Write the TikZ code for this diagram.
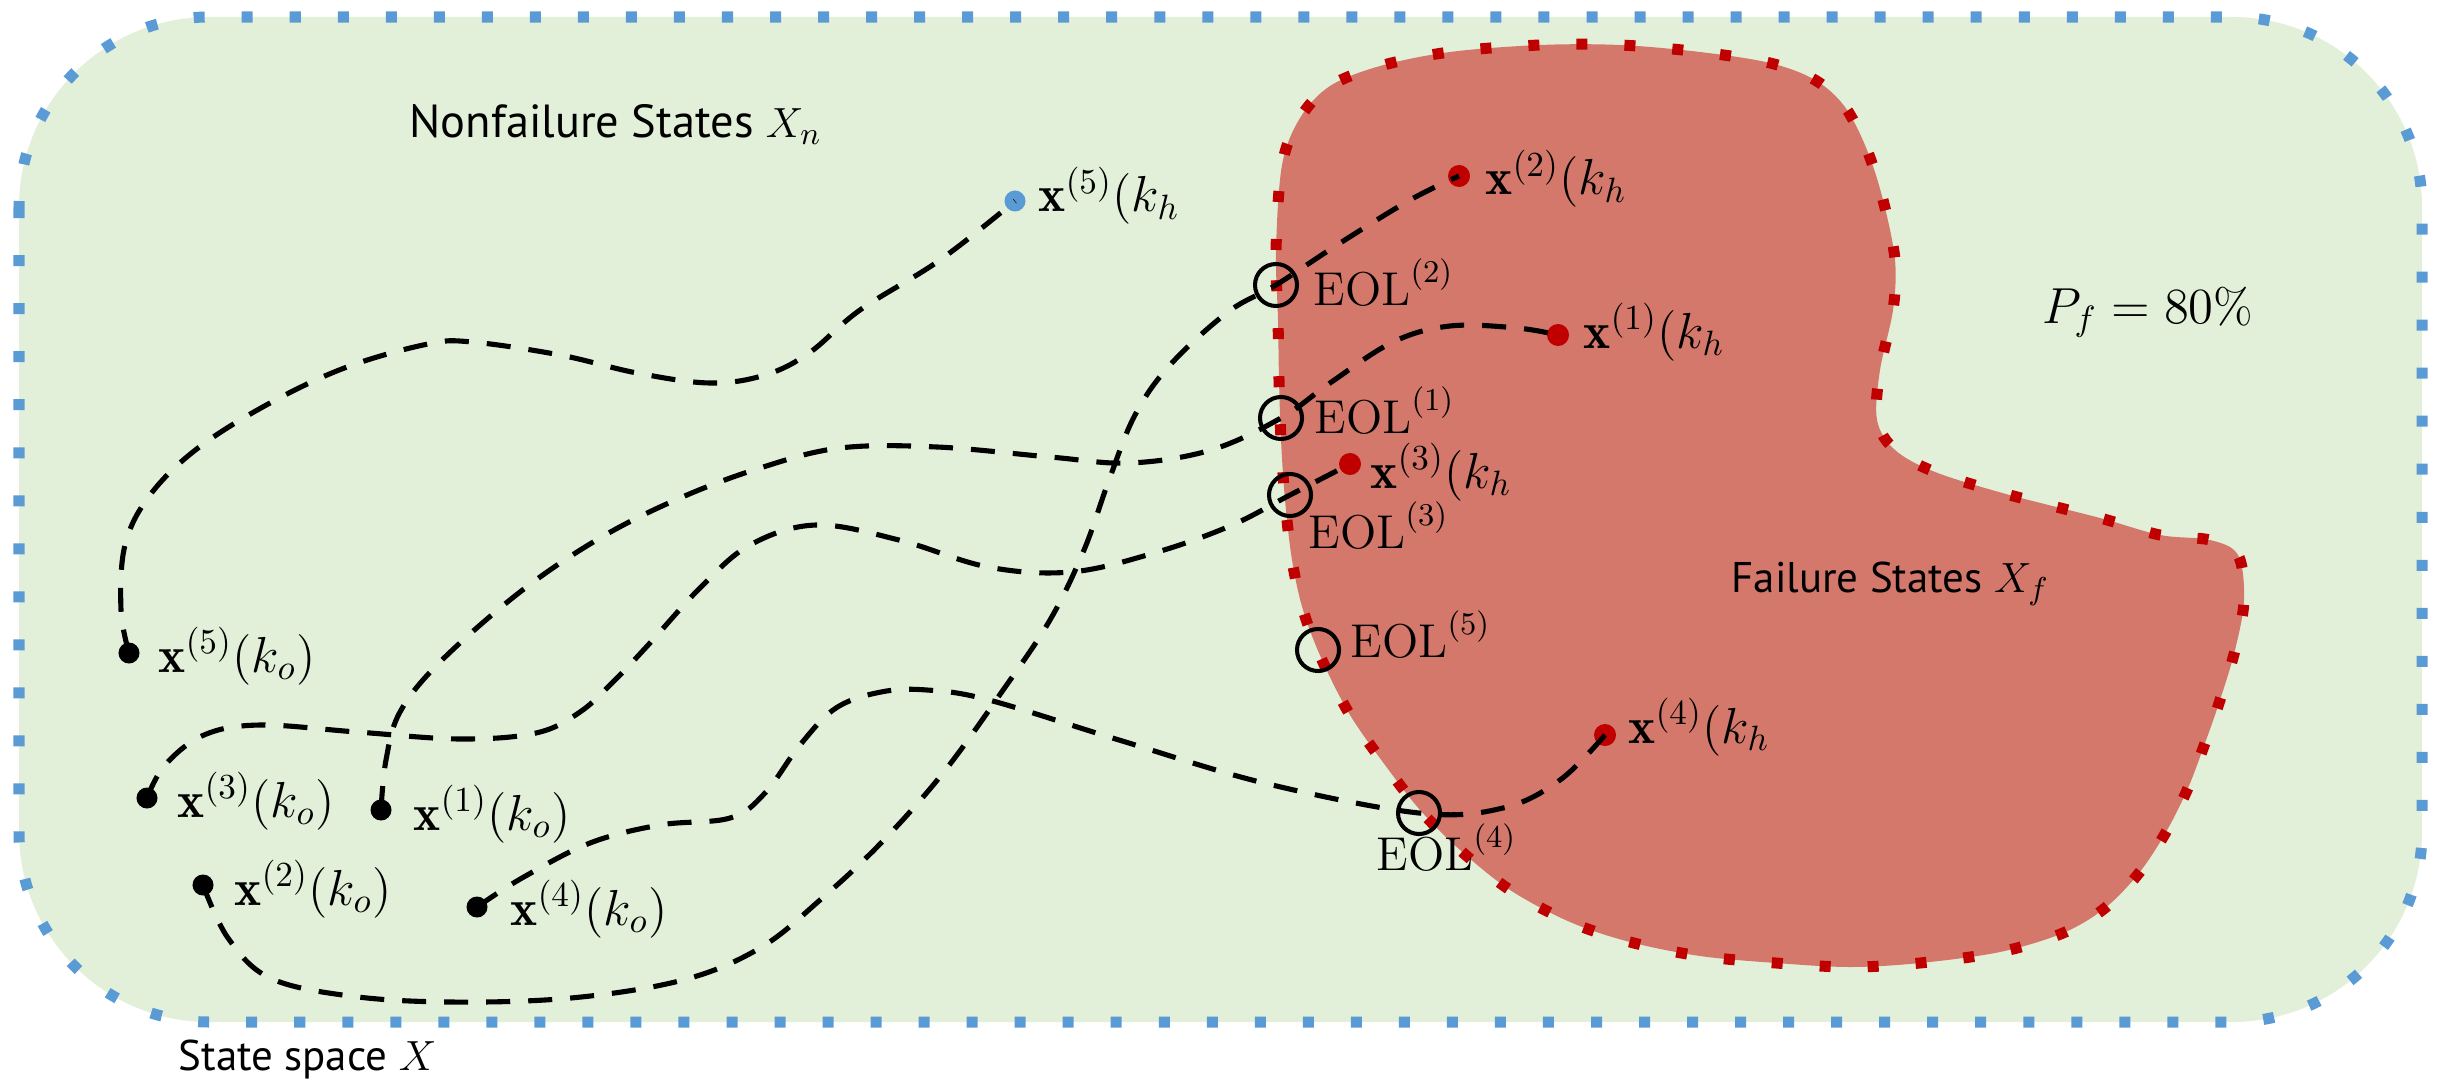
\documentclass[tikz,border=0pt]{standalone}
\usepackage{amsmath}
\usepackage{fontspec}
\setsansfont{PT Sans}
\definecolor{bggreen}{RGB}{226,239,217}
\definecolor{failred}{RGB}{211,120,106}
\definecolor{darkred}{RGB}{192,0,0}
\definecolor{bordblue}{RGB}{91,155,213}
\begin{document}
\begin{tikzpicture}[x=0.01cm,y=-0.01cm,
  lab/.style={inner sep=0pt, anchor=base west, font=\fontsize{13.5}{16}\selectfont},
  xlab/.style={inner sep=0pt, anchor=base west, font=\fontsize{14.6}{17}\selectfont},
  sanslab/.style={inner sep=0pt, anchor=base west, font=\sffamily\fontsize{13}{16}\selectfont},
  dotk/.style={circle, fill=black, inner sep=0pt, minimum size=0.21cm},
  dotr/.style={circle, fill=darkred, inner sep=0pt, minimum size=0.22cm},
  dotb/.style={circle, fill=bordblue, inner sep=0pt, minimum size=0.21cm},
  eol/.style={circle, draw=black, line width=1.15pt, inner sep=0pt, minimum size=0.42cm},
  traj/.style={line width=1.45pt, dash pattern=on 0.24cm off 0.18cm},
  sqdash/.style={line width=0.11cm, dash pattern=on 0.11cm off 0.37cm},
]
\useasboundingbox (0,0) rectangle (2437,1082);
% state space
\path[fill=bggreen, rounded corners=1.9cm] (19,17) rectangle (2422,1022);
\draw[sqdash, draw=bordblue, rounded corners=1.9cm] (19,17) rectangle (2422,1022);
% failure region
\path[fill=failred] plot[smooth cycle, tension=0.55] coordinates {
 (1278,320) (1276,250) (1282,165) (1300,118) (1330,86) (1380,66) (1450,52)
 (1540,45) (1620,45) (1700,52) (1770,63) (1815,80) (1845,107) (1867,150)
 (1883,200) (1895,260) (1893,310) (1880,370) (1877,420) (1895,450) (1935,472)
 (2006,494) (2100,518) (2160,535) (2210,540) (2238,555) (2244,600) (2235,650)
 (2220,700) (2205,743) (2188,788) (2166,832) (2139,873) (2105,908) (2063,933)
 (2000,952) (1920,963) (1850,967) (1776,963) (1700,956) (1630,942) (1570,922)
 (1510,890) (1460,850) (1420,810) (1385,765) (1350,715) (1322,660) (1303,610)
 (1292,560) (1285,500) (1281,440) (1279,380)};
\draw[sqdash, draw=darkred] plot[smooth cycle, tension=0.55] coordinates {
 (1278,320) (1276,250) (1282,165) (1300,118) (1330,86) (1380,66) (1450,52)
 (1540,45) (1620,45) (1700,52) (1770,63) (1815,80) (1845,107) (1867,150)
 (1883,200) (1895,260) (1893,310) (1880,370) (1877,420) (1895,450) (1935,472)
 (2006,494) (2100,518) (2160,535) (2210,540) (2238,555) (2244,600) (2235,650)
 (2220,700) (2205,743) (2188,788) (2166,832) (2139,873) (2105,908) (2063,933)
 (2000,952) (1920,963) (1850,967) (1776,963) (1700,956) (1630,942) (1570,922)
 (1510,890) (1460,850) (1420,810) (1385,765) (1350,715) (1322,660) (1303,610)
 (1292,560) (1285,500) (1281,440) (1279,380)};
% region labels
\node[sanslab, font=\sffamily\fontsize{13.2}{16}\selectfont] (nonfail) at (409,138) {Nonfailure States $X_n$};
\node[sanslab, font=\sffamily\fontsize{12.2}{16}\selectfont] (space) at (178,1070) {State space $X$};
\node[sanslab, font=\sffamily\fontsize{12.2}{16}\selectfont] (fail) at (1731,592) {Failure States $X_f$};
\node[lab, font=\fontsize{13.8}{16}\selectfont] (pf) at (2042,323) {$P_f = 80\%$};
% start dots
\node[dotk] (o1) at (381,810) {};
\node[dotk] (o2) at (203,885) {};
\node[dotk] (o3) at (147,798) {};
\node[dotk] (o4) at (477,907) {};
\node[dotk] (o5) at (129,653) {};
% end dots
\node[dotr] (h1) at (1558,335) {};
\node[dotr] (h2) at (1459,176) {};
\node[dotr] (h3) at (1350,464) {};
\node[dotr] (h4) at (1605,735) {};
\node[dotb] (h5) at (1015,201) {};
% EOL points
\coordinate (e1) at (1281,418);
\coordinate (e2) at (1276,285);
\coordinate (e3) at (1290,495);
\coordinate (e4) at (1419,813);
\coordinate (e5) at (1318,650);
% trajectories
\draw[traj] plot[smooth, tension=0.6] coordinates {(o1.center) (386,760) (400,712) (440,662) (520,592) (600,538) (680,498) (760,468) (840,448) (937,447) (1050,457) (1130,463) (1211,450) (e1) (1330,383) (1393,342) (1450,326) (1517,328) (h1.center)};
\draw[traj] plot[smooth, tension=0.6] coordinates {(o2.center) (228,938) (270,978) (350,996) (450,1002) (571,998) (683,980) (760,948) (820,900) (881,843) (943,773) (1001,693) (1050,620) (1084,550) (1109,480) (1135,415) (1170,365) (1228,312) (e2) (1337,245) (1410,200) (h2.center)};
\draw[traj] plot[smooth, tension=0.6] coordinates {(o3.center) (165,765) (204,735) (260,725) (357,732) (460,739) (536,733) (580,712) (615,680) (650,643) (700,588) (750,545) (816,525) (899,540) (988,567) (1071,572) (1154,553) (1230,526) (e3) (h3.center)};
\draw[traj] plot[smooth, tension=0.6] coordinates {(o4.center) (522,878) (590,843) (660,825) (730,818) (765,793) (800,745) (836,708) (881,692) (927,690) (989,700) (1119,740) (1264,783) (e4) (1503,808) (1560,780) (h4.center)};
\draw[traj] plot[smooth, tension=0.6] coordinates {(o5.center) (121,610) (125,545) (150,495) (198,448) (270,403) (347,367) (428,344) (472,342) (560,355) (637,373) (710,383) (765,375) (809,353) (860,310) (940,260) (h5.center)};
% EOL circles
\node[eol] (c1) at (e1) {};
\node[eol] (c2) at (e2) {};
\node[eol] (c3) at (e3) {};
\node[eol] (c4) at (e4) {};
\node[eol] (c5) at (e5) {};
% EOL labels
\node[lab] (l1) at (1314,433) {$\mathrm{EOL}^{(1)}$};
\node[lab] (l2) at (1313,305) {$\mathrm{EOL}^{(2)}$};
\node[lab] (l3) at (1308,548) {$\mathrm{EOL}^{(3)}$};
\node[lab] (l4) at (1376,870) {$\mathrm{EOL}^{(4)}$};
\node[lab] (l5) at (1350,657) {$\mathrm{EOL}^{(5)}$};
% start labels
\node[xlab] (lo1) at (413,830) {$\mathbf{x}^{(1)}(k_o)$};
\node[xlab] (lo2) at (234,905) {$\mathbf{x}^{(2)}(k_o)$};
\node[xlab] (lo3) at (177,817) {$\mathbf{x}^{(3)}(k_o)$};
\node[xlab] (lo4) at (510,925) {$\mathbf{x}^{(4)}(k_o)$};
\node[xlab] (lo5) at (158,672) {$\mathbf{x}^{(5)}(k_o)$};
% end labels
\node[xlab] (lh1) at (1583,348) {$\mathbf{x}^{(1)}(k_h$};
\node[xlab] (lh2) at (1485,195) {$\mathbf{x}^{(2)}(k_h$};
\node[xlab] (lh3) at (1370,488) {$\mathbf{x}^{(3)}(k_h$};
\node[xlab] (lh4) at (1628,743) {$\mathbf{x}^{(4)}(k_h$};
\node[xlab] (lh5) at (1038,212) {$\mathbf{x}^{(5)}(k_h$};
\end{tikzpicture}
\end{document}
